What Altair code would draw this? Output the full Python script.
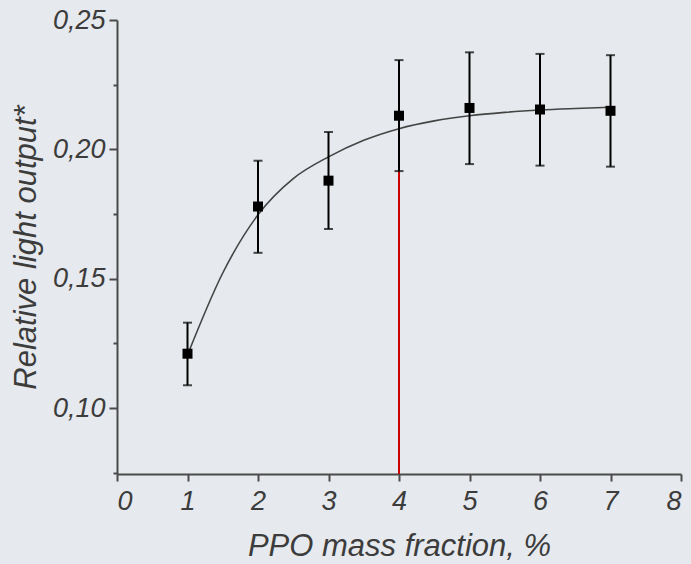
import altair as alt
import pandas as pd

# Measured points
x_vals = [1, 2, 3, 4, 5, 6, 7]
y_vals = [0.1210, 0.1779, 0.1879, 0.2130, 0.2160, 0.2154, 0.2149]
err_lo = [0.1088, 0.1600, 0.1692, 0.1916, 0.1943, 0.1937, 0.1933]
err_hi = [0.1330, 0.1956, 0.2067, 0.2345, 0.2375, 0.2369, 0.2364]

# Fitted curve
curve_x = [1, 1.5, 2, 2.5, 3, 3.5, 4, 4.5, 5, 5.5, 6, 6.5, 7]
curve_y = [0.1205, 0.1522, 0.1747, 0.1887, 0.1971, 0.2035, 0.2080,
           0.2110, 0.2130, 0.2143, 0.2152, 0.2158, 0.2163]

# Red marker line
red_x = [4]
red_top = [0.2130]

x_domain = [0, 8]
y_domain = [0.0745, 0.25]
x_ticks = [i / 2 for i in range(0, 17)]
y_ticks = [0.075, 0.10, 0.125, 0.15, 0.175, 0.20, 0.225, 0.25]

pts = pd.DataFrame({"x": x_vals, "y": y_vals, "lo": err_lo, "hi": err_hi})
curve = pd.DataFrame({"x": curve_x, "y": curve_y})
red = pd.DataFrame({"x": red_x, "top": red_top, "bottom": [y_domain[0]] * len(red_x)})

FONT = "Liberation Sans"
TXT = "#3c3c3c"
AX = "#4a4a4a"

x_axis = alt.Axis(
    values=x_ticks,
    labelExpr="datum.value % 1 === 0 ? datum.label : ''",
    format="d",
    tickSize={"condition": {"test": "datum.value % 1 !== 0", "value": 4}, "value": 7},
    title="PPO mass fraction, %",
    grid=False,
    domainColor=AX, domainWidth=2, tickColor=AX, tickWidth=2,
    labelFont=FONT, labelFontSize=27, labelFontStyle="italic", labelColor=TXT,
    labelPadding=7,
    titleFont=FONT, titleFontSize=31, titleFontStyle="italic", titleFontWeight="normal",
    titleColor=TXT, titlePadding=17,
)
y_axis = alt.Axis(
    values=y_ticks,
    labelExpr="abs(datum.value*20 - round(datum.value*20)) > 0.01 ? '' : replace(format(datum.value, '.2f'), '.', ',')",
    tickSize={"condition": {"test": "abs(datum.value*20 - round(datum.value*20)) > 0.01", "value": 4}, "value": 8},
    title="Relative light output*",
    grid=False,
    domainColor=AX, domainWidth=2, tickColor=AX, tickWidth=2,
    labelFont=FONT, labelFontSize=27, labelFontStyle="italic", labelColor=TXT,
    labelPadding=4,
    titleFont=FONT, titleFontSize=31, titleFontStyle="italic", titleFontWeight="normal",
    titleColor=TXT, titlePadding=10,
)

xs = alt.Scale(domain=x_domain, nice=False, zero=False)
ys = alt.Scale(domain=y_domain, nice=False, zero=False)

base_line = alt.Chart(curve).mark_line(color="#444444", strokeWidth=1.6, interpolate="monotone").encode(
    x=alt.X("x:Q", scale=xs, axis=x_axis),
    y=alt.Y("y:Q", scale=ys, axis=y_axis),
)

red_rule = alt.Chart(red).mark_rule(color="#cc0000", strokeWidth=2).encode(
    x=alt.X("x:Q", scale=xs),
    y=alt.Y("bottom:Q", scale=ys),
    y2="top:Q",
)

err = alt.Chart(pts).mark_rule(color="black", strokeWidth=2).encode(
    x=alt.X("x:Q", scale=xs),
    y=alt.Y("lo:Q", scale=ys),
    y2="hi:Q",
)
cap_lo = alt.Chart(pts).mark_tick(color="black", orient="horizontal", size=9, thickness=2).encode(
    x=alt.X("x:Q", scale=xs),
    y=alt.Y("lo:Q", scale=ys),
)
cap_hi = alt.Chart(pts).mark_tick(color="black", orient="horizontal", size=9, thickness=2).encode(
    x=alt.X("x:Q", scale=xs),
    y=alt.Y("hi:Q", scale=ys),
)
squares = alt.Chart(pts).mark_square(color="black", size=100, opacity=1).encode(
    x=alt.X("x:Q", scale=xs),
    y=alt.Y("y:Q", scale=ys),
)

chart = alt.layer(base_line, red_rule, err, cap_lo, cap_hi, squares).properties(
    width=564,
    height=454,
    autosize=alt.AutoSizeParams(type="none"),
    padding={"left": 117, "top": 20, "right": 10, "bottom": 90},
    background="#e6e9ed",
).configure_view(stroke=None)

chart.save("out.html", embed_options={"renderer": "svg", "actions": False})
